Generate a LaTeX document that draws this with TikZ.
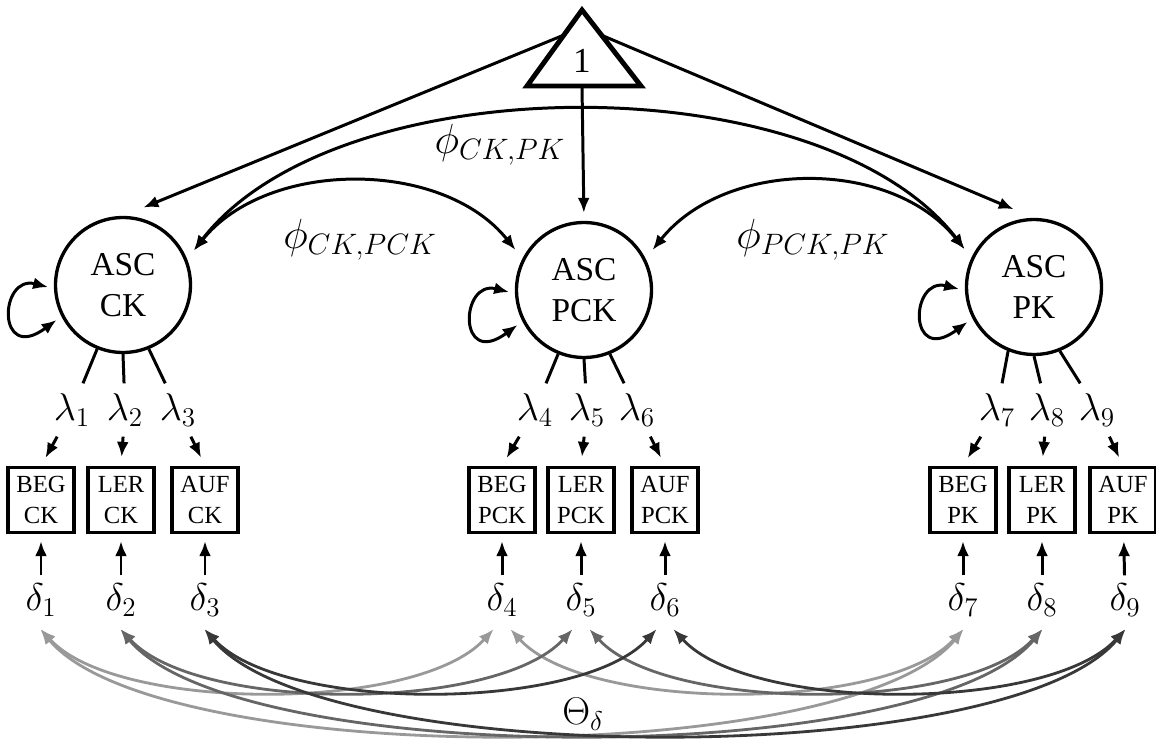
\RequirePackage{fix-cm}
\documentclass[tikz,border=0pt]{standalone}
\usepackage{amssymb,amsfonts,amsmath}
\usepackage[no-math]{fontspec}
\setmainfont{Liberation Serif}
\usepackage{tikz}
\usetikzlibrary{arrows.meta}

\definecolor{lightpath}{gray}{0.6}
\definecolor{midpath}{gray}{0.4}
\definecolor{darkpath}{gray}{0.22}

\tikzset{
  >={Latex[length=0.3cm,width=0.24cm]},
  latent/.style={draw, circle, line width=1.9pt, minimum size=2.7cm, inner sep=0pt,
    align=center, font=\fontsize{19}{23.5}\selectfont},
  manifest/.style={draw, rectangle, line width=1.9pt, minimum width=1.32cm,
    minimum height=1.3cm, inner sep=0pt, align=center, font=\fontsize{14}{18}\selectfont},
  coef/.style={inner sep=0.2cm, font=\fontsize{22}{26}\selectfont},
  resid/.style={inner sep=0.16cm, font=\fontsize{22}{26}\selectfont},
  philabel/.style={inner sep=0pt, font=\fontsize{24}{28}\selectfont},
  link/.style={line width=1.7pt},
  cov/.style={<->, line width=1.6pt, shorten <=0.12cm, shorten >=0.12cm}
}

\begin{document}
\begin{tikzpicture}[x=0.02cm, y=-0.02cm]
        \useasboundingbox (0,0) rectangle (1156,743);

        % Constant
        \draw[line width=2.8pt] (527,86) -- (582,10) -- (641,86) -- cycle;
        \node (one) at (582,61) {\fontsize{20}{22}\selectfont 1};
        \coordinate (oneleft) at (564,35);
        \coordinate (oneright) at (601,35);
        \coordinate (onebase) at (582,86);

        % Latent variables
        \node[latent] (ck) at (123,285) {ASC\\CK};
        \node[latent] (pck) at (584,290) {ASC\\PCK};
        \node[latent] (pk) at (1034,287) {ASC\\PK};

        \draw[link,->,shorten >=0.44cm] (oneleft) -- (ck.north);
        \draw[link,->,shorten >=0.16cm] (onebase) -- (pck.north);
        \draw[link,->,shorten >=0.44cm] (oneright) -- (pk.north);

        % Variances
        \draw[link,<->,shorten <=0.12cm,shorten >=0.12cm] (ck.183) .. controls +(-55,-14) and +(-65,48) .. (ck.207);
        \draw[link,<->,shorten <=0.12cm,shorten >=0.12cm] (pck.183) .. controls +(-55,-14) and +(-65,48) .. (pck.207);
        \draw[link,<->,shorten <=0.12cm,shorten >=0.12cm] (pk.183) .. controls +(-55,-14) and +(-65,48) .. (pk.207);

        % Covariances of the latents
        \draw[link,<->,shorten <=0.22cm,shorten >=0.22cm] (ck.22) .. controls +(150,-195) and +(-150,-195) .. (pk.155);
        \draw[link,<->,shorten <=0.22cm,shorten >=0.22cm] (ck.22) .. controls +(80,-100) and +(-80,-100) .. (pck.153);
        \draw[link,<->,shorten <=0.22cm,shorten >=0.22cm] (pck.27) .. controls +(80,-100) and +(-80,-100) .. (pk.155);
        \node[philabel] (phickpk) at (500,145) {$\phi_{CK,PK}$};
        \node[philabel] (phickpck) at (360,240) {$\phi_{CK,PCK}$};
        \node[philabel] (phipckpk) at (813,240) {$\phi_{PCK,PK}$};

        % Indicators
        \node[manifest] (begck) at (41,500) {BEG\\CK};
        \node[manifest] (lerck) at (121,500) {LER\\CK};
        \node[manifest] (aufck) at (205,500) {AUF\\CK};
        \node[manifest] (begpck) at (502,500) {BEG\\PCK};
        \node[manifest] (lerpck) at (581,500) {LER\\PCK};
        \node[manifest] (aufpck) at (665,500) {AUF\\PCK};
        \node[manifest] (begpk) at (963,500) {BEG\\PK};
        \node[manifest] (lerpk) at (1042,500) {LER\\PK};
        \node[manifest] (aufpk) at (1123,500) {AUF\\PK};

        % Loadings
        \node[coef] (l1) at (72,410) {$\lambda_1$};
        \node[coef] (l2) at (125,410) {$\lambda_2$};
        \node[coef] (l3) at (178,410) {$\lambda_3$};
        \node[coef] (l4) at (535,410) {$\lambda_4$};
        \node[coef] (l5) at (587,410) {$\lambda_5$};
        \node[coef] (l6) at (637,410) {$\lambda_6$};
        \node[coef] (l7) at (997,410) {$\lambda_7$};
        \node[coef] (l8) at (1047,410) {$\lambda_8$};
        \node[coef] (l9) at (1097,410) {$\lambda_9$};

        \draw[link] (ck.248) -- (l1);
        \draw[link] (ck.270) -- (l2);
        \draw[link] (ck.292) -- (l3);
        \draw[link] (pck.248) -- (l4);
        \draw[link] (pck.270) -- (l5);
        \draw[link] (pck.292) -- (l6);
        \draw[link] (pk.248) -- (l7);
        \draw[link] (pk.270) -- (l8);
        \draw[link] (pk.292) -- (l9);

        \draw[link,->,shorten >=0.18cm] (l1) -- (begck.north);
        \draw[link,->,shorten >=0.18cm] (l2) -- (lerck.north);
        \draw[link,->,shorten >=0.18cm] (l3) -- (aufck.north);
        \draw[link,->,shorten >=0.18cm] (l4) -- (begpck.north);
        \draw[link,->,shorten >=0.18cm] (l5) -- (lerpck.north);
        \draw[link,->,shorten >=0.18cm] (l6) -- (aufpck.north);
        \draw[link,->,shorten >=0.18cm] (l7) -- (begpk.north);
        \draw[link,->,shorten >=0.18cm] (l8) -- (lerpk.north);
        \draw[link,->,shorten >=0.18cm] (l9) -- (aufpk.north);

        % Errors
        \node[resid] (d1) at (41,600) {$\delta_1$};
        \node[resid] (d2) at (121,600) {$\delta_2$};
        \node[resid] (d3) at (205,600) {$\delta_3$};
        \node[resid] (d4) at (502,600) {$\delta_4$};
        \node[resid] (d5) at (581,600) {$\delta_5$};
        \node[resid] (d6) at (665,600) {$\delta_6$};
        \node[resid] (d7) at (963,600) {$\delta_7$};
        \node[resid] (d8) at (1042,600) {$\delta_8$};
        \node[resid] (d9) at (1125,600) {$\delta_9$};

        \draw[link,->,shorten >=0.14cm] (d1) -- (begck);
        \draw[link,->,shorten >=0.14cm] (d2) -- (lerck);
        \draw[link,->,shorten >=0.14cm] (d3) -- (aufck);
        \draw[link,->,shorten >=0.14cm] (d4) -- (begpck);
        \draw[link,->,shorten >=0.14cm] (d5) -- (lerpck);
        \draw[link,->,shorten >=0.14cm] (d6) -- (aufpck);
        \draw[link,->,shorten >=0.14cm] (d7) -- (begpk);
        \draw[link,->,shorten >=0.14cm] (d8) -- (lerpk);
        \draw[link,->,shorten >=0.14cm] (d9) -- (aufpk);

        % Error covariances
        \draw[cov, lightpath] (d1.-100) .. controls +(80,88) and +(-80,88) .. (d4.-100);
        \draw[cov, lightpath] (d4.-80) .. controls +(80,88) and +(-80,88) .. (d7.-80);
        \draw[cov, lightpath] (d1.-100) .. controls +(120,145) and +(-120,145) .. (d7.-80);
        \draw[cov, midpath] (d2.-100) .. controls +(80,88) and +(-80,88) .. (d5.-100);
        \draw[cov, midpath] (d5.-80) .. controls +(80,88) and +(-80,88) .. (d8.-80);
        \draw[cov, midpath] (d2.-100) .. controls +(120,145) and +(-120,145) .. (d8.-80);
        \draw[cov, darkpath] (d3.-100) .. controls +(80,88) and +(-80,88) .. (d6.-100);
        \draw[cov, darkpath] (d6.-80) .. controls +(80,88) and +(-80,88) .. (d9.-80);
        \draw[cov, darkpath] (d3.-100) .. controls +(120,145) and +(-120,145) .. (d9.-80);
        \node[coef] (theta) at (583,714) {$\Theta_\delta$};
\end{tikzpicture}
\end{document}
